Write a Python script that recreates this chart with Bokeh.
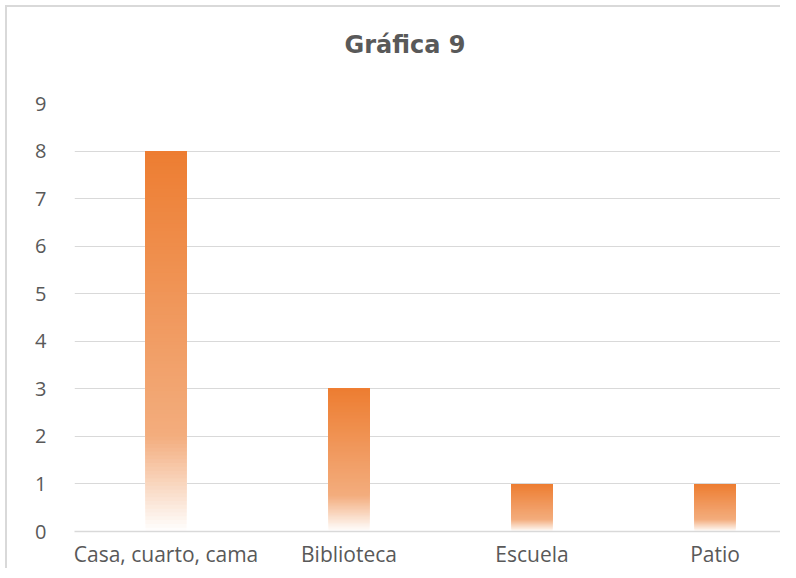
from bokeh.plotting import figure
from bokeh.models import Range1d, FixedTicker, Title
from bokeh.embed import file_html
from bokeh.resources import INLINE

# ---- data ----
categories = ["Casa, cuarto, cama", "Biblioteca", "Escuela", "Patio"]
values = [8, 3, 1, 1]
y_ticks = [0, 1, 2, 3, 4, 5, 6, 7, 8, 9]
title_text = "Gráfica 9"

# ---- style ----
TEXT = "#595959"
GRID = "#d9d9d9"
FONT = "Open Sans"
# gradient stops (fraction from top of bar -> rgb)
stops = [(0.0, (237, 125, 49)), (0.75, (243, 173, 126)), (1.0, (255, 255, 255))]


def grad_color(t):
    for (t0, c0), (t1, c1) in zip(stops[:-1], stops[1:]):
        if t0 <= t <= t1:
            f = (t - t0) / (t1 - t0)
            rgb = [round(a + (b - a) * f) for a, b in zip(c0, c1)]
            return "#%02x%02x%02x" % tuple(rgb)
    return "#ffffff"


W, H = 775, 563
LEFT, TOP, BOTTOM = 67, 96, 30
frame_w = W - LEFT
p = figure(width=W, height=H, output_backend="svg", toolbar_location=None,
           x_range=Range1d(0.5, 0.5 + frame_w / 183), y_range=Range1d(0, 9),
           min_border_left=LEFT, min_border_right=0, min_border_top=TOP,
           min_border_bottom=BOTTOM)
p.outline_line_color = None
p.background_fill_color = "white"
p.border_fill_color = "white"
p.styles = {"border-left": "2px solid #d9d9d9", "border-top": "2px solid #d9d9d9",
            "margin-left": "5px", "margin-top": "5px"}

# spacer panel between the frame and the title
spacer = Title(text=" ", text_font_size="1px", standoff=42, text_color="white")
p.add_layout(spacer, "above")
t = Title(text=title_text, align="left", offset=270, text_font="DejaVu Sans",
          text_font_style="bold", text_font_size="24px", text_color=TEXT,
          standoff=0)
p.add_layout(t, "above")

# gradient bars: overlapping slices of each bar's value (seam-free)
N = 100
half = 0.112
xs = [i + 1 for i in range(len(categories))]
lefts, rights, bottoms, tops, colors = [], [], [], [], []
for x, v in zip(xs, values):
    for k in range(N):
        lo = v * k / N
        frac_from_top = 1 - (k + 0.5) / N
        lefts.append(x - half)
        rights.append(x + half)
        bottoms.append(lo)
        tops.append(v)
        colors.append(grad_color(frac_from_top))
p.quad(left=lefts, right=rights, bottom=bottoms, top=tops, fill_color=colors,
       line_color=None)

# axes
p.xaxis.ticker = FixedTicker(ticks=xs)
p.xaxis.major_label_overrides = {x: c for x, c in zip(xs, categories)}
p.xaxis.axis_line_color = GRID
p.xaxis.axis_line_width = 1.5
p.xaxis.major_tick_line_color = None
p.xaxis.minor_tick_line_color = None
p.xaxis.major_label_text_font = FONT
p.xaxis.major_label_text_font_size = "21px"
p.xaxis.major_label_text_color = TEXT
p.xaxis.major_label_standoff = 2

p.yaxis.ticker = FixedTicker(ticks=y_ticks)
p.yaxis.axis_line_color = None
p.yaxis.major_tick_line_color = None
p.yaxis.minor_tick_line_color = None
p.yaxis.major_label_text_font = FONT
p.yaxis.major_label_text_font_size = "20px"
p.yaxis.major_label_text_color = TEXT
p.yaxis.major_label_standoff = 22

p.xgrid.visible = False
p.ygrid.ticker = FixedTicker(ticks=y_ticks)
p.ygrid.grid_line_color = GRID
p.ygrid.grid_line_width = 1.2

open("out.html", "w").write(file_html(p, INLINE))
